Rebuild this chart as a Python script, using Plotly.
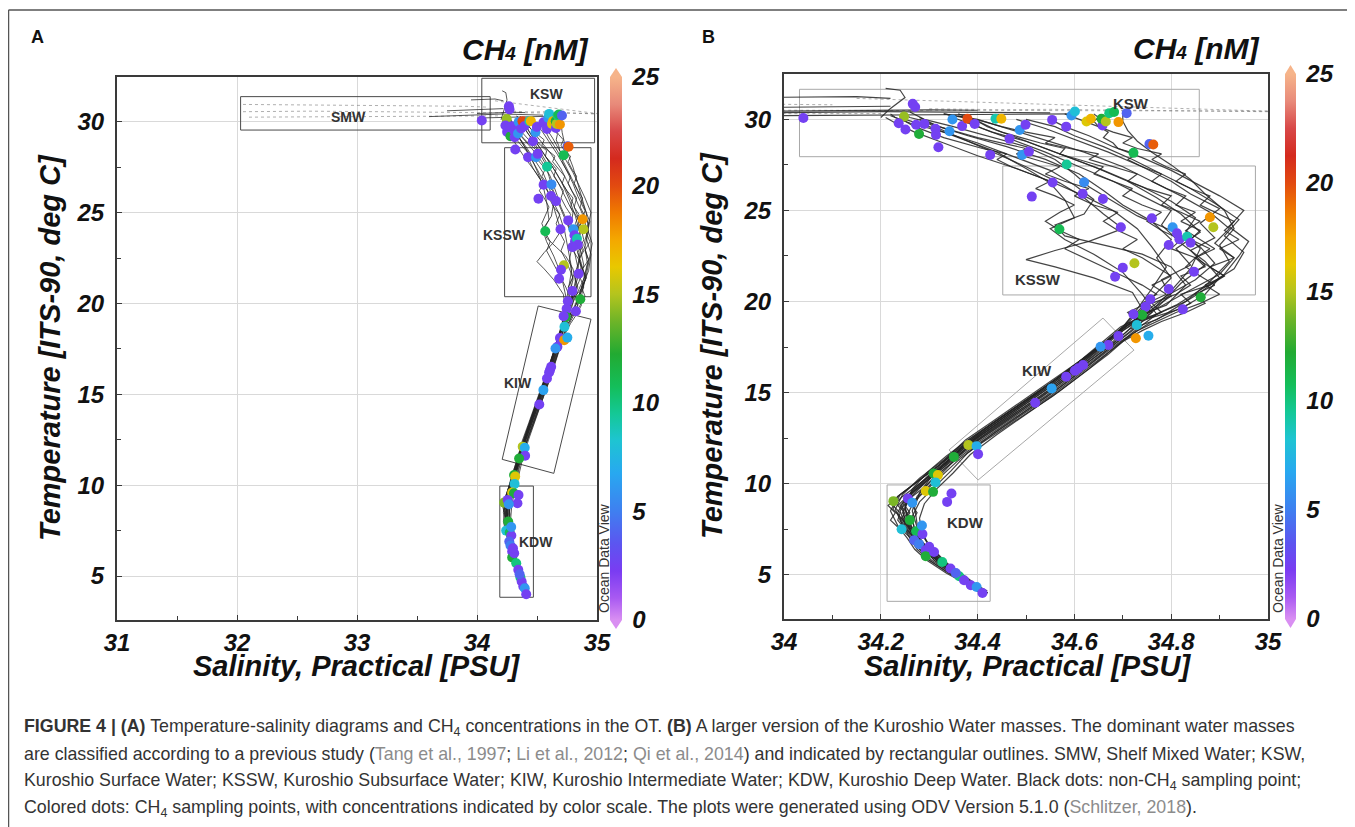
import plotly.graph_objects as go

# page body margin is 8px: reference pixel P maps to figure pixel P-8
OFF = 8
W, H = 1355 - OFF, 827 - OFF
def fx(px): return (px - OFF) / W
def fy(py): return 1 - (py - OFF) / H

FONT = "Liberation Sans, Arial, sans-serif"

# ---------------- CTD casts (salinity PSU, temperature deg C) ----------------
cast01_sal = [34.415, 34.37, 34.325, 34.29, 34.265, 34.255, 34.27, 34.30, 34.335, 34.37, 34.425, 34.49, 34.555, 34.615, 34.665, 34.705,
              34.76, 34.80, 34.84, 34.86, 34.83, 34.85, 34.80, 34.74, 34.66, 34.58, 34.50, 34.44, 34.40, 34.36]
cast01_temp = [4.0, 4.8, 5.7, 6.6, 7.5, 8.3, 9.1, 9.9, 10.8, 11.8, 12.9, 14.1, 15.3, 16.5, 17.6, 18.5,
               19.5, 20.6, 21.8, 22.9, 23.8, 24.6, 25.5, 26.3, 27.2, 28.0, 28.8, 29.4, 29.9, 30.2]

cast02_sal = [34.41, 34.36, 34.31, 34.27, 34.235, 34.22, 34.235, 34.275, 34.32, 34.36, 34.415, 34.48, 34.545, 34.605, 34.655, 34.695,
              34.77, 34.83, 34.90, 34.93, 34.89, 34.92, 34.88, 34.82, 34.76, 34.70, 34.62, 34.52, 34.45, 34.40, 34.33]
cast02_temp = [3.9, 4.9, 5.9, 6.8, 7.7, 8.5, 9.3, 10.1, 11.0, 11.9, 13.0, 14.2, 15.4, 16.6, 17.7, 18.6,
               19.6, 20.5, 21.5, 22.4, 23.2, 24.0, 24.9, 25.8, 26.6, 27.4, 28.2, 29.0, 29.6, 30.0, 30.3]

cast03_sal = [34.42, 34.38, 34.34, 34.305, 34.285, 34.28, 34.29, 34.315, 34.35, 34.385, 34.44, 34.505, 34.57, 34.63, 34.68, 34.72,
              34.77, 34.74, 34.70, 34.64, 34.58, 34.55, 34.60, 34.58, 34.55, 34.50, 34.44, 34.36, 34.30, 34.25]
cast03_temp = [4.1, 4.7, 5.5, 6.4, 7.3, 8.1, 8.9, 9.7, 10.6, 11.6, 12.7, 13.9, 15.1, 16.3, 17.4, 18.3,
               19.3, 20.4, 21.6, 22.6, 23.4, 24.0, 24.6, 25.6, 26.5, 27.3, 28.2, 29.0, 29.6, 30.0]

cast04_sal = [34.415, 34.365, 34.315, 34.275, 34.25, 34.245, 34.265, 34.295, 34.33, 34.37, 34.43, 34.495, 34.56, 34.62, 34.67, 34.71,
              34.76, 34.81, 34.87, 34.93, 34.95, 34.91, 34.94, 34.89, 34.84, 34.78, 34.72, 34.66, 34.60, 34.56, 34.50]
cast04_temp = [4.0, 5.0, 5.9, 6.9, 7.8, 8.7, 9.5, 10.3, 11.1, 12.0, 13.1, 14.3, 15.5, 16.7, 17.8, 18.7,
               19.2, 19.8, 20.8, 21.8, 22.7, 23.6, 24.5, 25.4, 26.2, 27.0, 27.8, 28.5, 29.1, 29.6, 30.0]

cast05_sal = [34.41, 34.36, 34.315, 34.28, 34.25, 34.235, 34.25, 34.28, 34.325, 34.365, 34.42, 34.485, 34.55, 34.61, 34.66, 34.70,
              34.73, 34.76, 34.79, 34.76, 34.73, 34.68, 34.62, 34.55, 34.48, 34.40, 34.33, 34.27, 34.23, 34.21]
cast05_temp = [4.0, 4.9, 5.8, 6.7, 7.6, 8.4, 9.2, 10.0, 10.9, 11.9, 13.0, 14.2, 15.4, 16.6, 17.7, 18.6,
               19.6, 20.7, 21.9, 23.0, 24.0, 25.0, 25.8, 26.6, 27.3, 28.0, 28.7, 29.3, 29.8, 30.1]

cast06_sal = [34.42, 34.38, 34.33, 34.295, 34.27, 34.265, 34.28, 34.31, 34.345, 34.38, 34.435, 34.50, 34.565, 34.625, 34.675, 34.715,
              34.74, 34.78, 34.82, 34.87, 34.84, 34.89, 34.86, 34.90, 34.84, 34.80, 34.74, 34.67, 34.60, 34.54, 34.48]
cast06_temp = [4.0, 4.6, 5.5, 6.5, 7.4, 8.2, 9.0, 9.8, 10.7, 11.7, 12.8, 14.0, 15.2, 16.4, 17.5, 18.4,
               18.9, 19.9, 21.0, 22.0, 22.8, 23.5, 24.3, 25.1, 25.9, 26.6, 27.4, 28.2, 28.9, 29.5, 30.0]

cast07_sal = [34.415, 34.37, 34.32, 34.28, 34.245, 34.23, 34.245, 34.28, 34.33, 34.37, 34.425, 34.49, 34.555, 34.615, 34.665, 34.705,
              34.74, 34.72, 34.64, 34.56, 34.50, 34.56, 34.63, 34.70, 34.66, 34.62, 34.57, 34.50, 34.43, 34.37, 34.32, 34.28]
cast07_temp = [4.0, 4.8, 5.7, 6.7, 7.7, 8.6, 9.4, 10.3, 11.3, 12.2, 13.2, 14.4, 15.6, 16.8, 17.8, 18.7,
               19.6, 20.5, 21.3, 21.9, 22.3, 22.8, 23.3, 24.0, 24.8, 25.7, 26.5, 27.4, 28.2, 28.9, 29.5, 30.0]

cast08_sal = [34.42, 34.375, 34.33, 34.295, 34.275, 34.27, 34.28, 34.305, 34.34, 34.375, 34.43, 34.495, 34.56, 34.62, 34.67, 34.715,
              34.77, 34.82, 34.87, 34.90, 34.87, 34.82, 34.78, 34.80, 34.74, 34.68, 34.61, 34.54, 34.47, 34.41, 34.37]
cast08_temp = [4.0, 4.8, 5.8, 6.8, 7.8, 8.7, 9.5, 10.4, 11.3, 12.2, 13.3, 14.5, 15.7, 16.9, 17.9, 18.8,
               19.2, 19.6, 20.4, 21.3, 22.2, 23.2, 24.2, 25.0, 25.8, 26.6, 27.4, 28.2, 28.9, 29.5, 30.0]

cast09_sal = [34.415, 34.37, 34.32, 34.28, 34.255, 34.25, 34.265, 34.295, 34.335, 34.375, 34.43, 34.495, 34.56, 34.62, 34.67, 34.71,
              34.77, 34.83, 34.88, 34.92, 34.90, 34.93, 34.91, 34.87, 34.84, 34.80, 34.76, 34.73, 34.71, 34.70, 34.70]
cast09_temp = [4.0, 4.9, 5.9, 6.9, 7.9, 8.8, 9.7, 10.6, 11.5, 12.3, 13.3, 14.5, 15.7, 16.8, 17.9, 18.8,
               19.3, 20.0, 21.1, 22.2, 23.1, 24.0, 25.0, 25.9, 26.7, 27.5, 28.2, 28.8, 29.4, 29.9, 30.3]

cast10_sal = [34.41, 34.365, 34.315, 34.275, 34.25, 34.24, 34.255, 34.29, 34.33, 34.37, 34.425, 34.49, 34.55, 34.61, 34.66, 34.70,
              34.72, 34.76, 34.80, 34.77, 34.80, 34.76, 34.70, 34.66, 34.61, 34.54, 34.46, 34.38, 34.32, 34.28]
cast10_temp = [3.9, 4.8, 5.8, 6.8, 7.7, 8.5, 9.3, 10.1, 11.0, 12.0, 13.1, 14.3, 15.5, 16.7, 17.7, 18.6,
               19.2, 20.2, 21.3, 22.4, 23.4, 24.4, 25.3, 26.1, 27.0, 27.8, 28.5, 29.1, 29.6, 30.1]

cast11_sal = [34.42, 34.375, 34.325, 34.285, 34.26, 34.25, 34.265, 34.30, 34.34, 34.375, 34.43, 34.495, 34.56, 34.62, 34.67, 34.71,
              34.75, 34.79, 34.83, 34.80, 34.74, 34.66, 34.58, 34.56, 34.62, 34.64, 34.60, 34.55, 34.47, 34.40, 34.33, 34.26, 34.22]
cast11_temp = [4.0, 4.9, 5.8, 6.8, 7.8, 8.7, 9.6, 10.5, 11.5, 12.4, 13.4, 14.6, 15.8, 16.9, 17.9, 18.7,
               19.4, 19.8, 20.9, 21.9, 22.6, 23.1, 23.6, 24.2, 24.8, 25.6, 26.4, 27.2, 28.0, 28.7, 29.3, 29.8, 30.2]

cast12_sal = [34.42, 34.38, 34.335, 34.30, 34.275, 34.265, 34.275, 34.305, 34.345, 34.38, 34.435, 34.50, 34.565, 34.625, 34.675, 34.715,
              34.77, 34.80, 34.86, 34.91, 34.94, 34.96, 34.92, 34.95, 34.90, 34.85, 34.80, 34.74, 34.68, 34.63, 34.58, 34.55]
cast12_temp = [4.0, 4.7, 5.6, 6.6, 7.6, 8.5, 9.3, 10.2, 11.1, 12.0, 13.0, 14.2, 15.4, 16.6, 17.6, 18.5,
               19.0, 19.5, 20.5, 21.5, 22.5, 23.3, 24.1, 25.0, 25.8, 26.5, 27.2, 27.9, 28.5, 29.1, 29.6, 30.0]

cast13_sal = [34.415, 34.37, 34.32, 34.285, 34.26, 34.245, 34.26, 34.29, 34.33, 34.37, 34.425, 34.49, 34.555, 34.615, 34.665, 34.705,
              34.75, 34.80, 34.78, 34.84, 34.81, 34.86, 34.82, 34.77, 34.71, 34.64, 34.57, 34.50, 34.43, 34.38, 34.34]
cast13_temp = [4.0, 4.8, 5.8, 6.7, 7.6, 8.4, 9.2, 10.0, 10.9, 11.9, 13.0, 14.2, 15.4, 16.6, 17.7, 18.6,
               19.4, 20.3, 21.2, 22.0, 22.9, 23.8, 24.8, 25.7, 26.6, 27.4, 28.1, 28.8, 29.3, 29.8, 30.2]

cast14_sal = [34.42, 34.375, 34.33, 34.29, 34.26, 34.225, 34.24, 34.28, 34.325, 34.365, 34.42, 34.485, 34.55, 34.61, 34.66, 34.70,
              34.74, 34.79, 34.85, 34.89, 34.86, 34.80, 34.73, 34.68, 34.63, 34.60, 34.56, 34.50, 34.42, 34.35, 34.29, 34.26]
cast14_temp = [4.0, 4.8, 5.7, 6.6, 7.6, 8.6, 9.4, 10.2, 11.1, 12.0, 13.0, 14.2, 15.4, 16.6, 17.6, 18.5,
               19.3, 20.3, 21.2, 22.1, 23.0, 23.9, 24.7, 25.5, 26.3, 27.0, 27.8, 28.5, 29.1, 29.6, 30.0, 30.4]

# finer-resolution casts sampled on a common temperature list
fine_temp = [4.0, 4.5, 5.1, 5.8, 6.4, 7.0, 7.5, 8.0, 8.4, 8.8, 9.3, 9.8, 10.3, 10.8, 11.4, 12.0, 12.7, 13.4, 14.1, 14.8,
             15.6, 16.4, 17.1, 17.8, 18.4, 18.9, 19.4, 19.9, 20.4, 20.9, 21.4, 21.9, 22.4, 22.9, 23.4, 23.9, 24.4, 24.9,
             25.3, 25.8, 26.2, 26.6, 27.0, 27.4, 27.8, 28.1, 28.4, 28.7, 29.0, 29.3, 29.6, 29.9, 30.1, 30.3]
cast15_sal = [34.42, 34.39, 34.35, 34.31, 34.29, 34.27, 34.26, 34.245, 34.255, 34.24, 34.26, 34.28, 34.30, 34.32, 34.35, 34.38, 34.42, 34.46, 34.50, 34.54,
              34.58, 34.62, 34.655, 34.69, 34.72, 34.74, 34.78, 34.76, 34.81, 34.84, 34.82, 34.87, 34.85, 34.89, 34.86, 34.83, 34.86, 34.82,
              34.78, 34.80, 34.75, 34.71, 34.73, 34.68, 34.63, 34.65, 34.59, 34.54, 34.56, 34.50, 34.45, 34.41, 34.37, 34.33]
cast16_sal = [34.415, 34.38, 34.34, 34.30, 34.28, 34.265, 34.25, 34.235, 34.24, 34.225, 34.245, 34.27, 34.295, 34.315, 34.345, 34.375, 34.415, 34.455, 34.495, 34.535,
              34.575, 34.615, 34.65, 34.685, 34.71, 34.73, 34.76, 34.74, 34.77, 34.74, 34.70, 34.66, 34.62, 34.58, 34.61, 34.57, 34.54, 34.57,
              34.60, 34.56, 34.52, 34.55, 34.51, 34.47, 34.44, 34.46, 34.41, 34.37, 34.33, 34.30, 34.27, 34.25, 34.23, 34.22]
cast17_sal = [34.42, 34.385, 34.345, 34.31, 34.29, 34.28, 34.27, 34.265, 34.275, 34.265, 34.28, 34.30, 34.32, 34.34, 34.365, 34.395, 34.435, 34.475, 34.515, 34.555,
              34.595, 34.635, 34.67, 34.70, 34.73, 34.76, 34.80, 34.84, 34.82, 34.88, 34.91, 34.88, 34.93, 34.90, 34.94, 34.91, 34.93, 34.89,
              34.86, 34.88, 34.84, 34.81, 34.83, 34.79, 34.76, 34.78, 34.73, 34.70, 34.72, 34.68, 34.65, 34.62, 34.60, 34.58]
cast18_sal = [34.41, 34.375, 34.335, 34.295, 34.27, 34.255, 34.24, 34.22, 34.23, 34.215, 34.235, 34.26, 34.285, 34.31, 34.34, 34.37, 34.41, 34.45, 34.49, 34.53,
              34.57, 34.61, 34.645, 34.68, 34.70, 34.73, 34.71, 34.75, 34.79, 34.76, 34.80, 34.77, 34.74, 34.70, 34.73, 34.69, 34.66, 34.69,
              34.64, 34.60, 34.63, 34.58, 34.54, 34.57, 34.52, 34.48, 34.50, 34.45, 34.40, 34.36, 34.32, 34.29, 34.26, 34.25]
cast19_sal = [34.42, 34.385, 34.345, 34.305, 34.28, 34.27, 34.26, 34.25, 34.26, 34.25, 34.265, 34.29, 34.31, 34.33, 34.36, 34.39, 34.43, 34.47, 34.51, 34.55,
              34.59, 34.63, 34.665, 34.70, 34.74, 34.78, 34.83, 34.87, 34.85, 34.89, 34.86, 34.83, 34.85, 34.80, 34.82, 34.78, 34.75, 34.78,
              34.74, 34.70, 34.72, 34.68, 34.64, 34.66, 34.61, 34.57, 34.58, 34.53, 34.49, 34.45, 34.42, 34.40, 34.38, 34.36]
cast20_sal = [34.415, 34.38, 34.34, 34.30, 34.275, 34.26, 34.25, 34.24, 34.25, 34.235, 34.255, 34.28, 34.30, 34.325, 34.355, 34.385, 34.425, 34.465, 34.505, 34.545,
              34.585, 34.625, 34.66, 34.695, 34.73, 34.77, 34.81, 34.86, 34.90, 34.87, 34.91, 34.88, 34.85, 34.88, 34.84, 34.86, 34.82, 34.85,
              34.81, 34.83, 34.79, 34.76, 34.78, 34.74, 34.71, 34.73, 34.69, 34.68, 34.66, 34.67, 34.65, 34.64, 34.65, 34.64]

# near-surface streaks (faint dotted)
streak01_sal = [32.05, 32.60, 33.20, 33.70, 34.00, 34.30]
streak01_temp = [30.55, 30.58, 30.55, 30.52, 30.50, 30.48]
streak02_sal = [32.05, 32.80, 33.40, 33.90, 34.10]
streak02_temp = [30.95, 30.92, 30.90, 30.85, 30.80]
streak03_sal = [32.10, 32.70, 33.30, 33.90, 34.20]
streak03_temp = [30.25, 30.28, 30.30, 30.30, 30.32]
streak04_sal = [34.15, 34.45, 34.75, 35.00]
streak04_temp = [31.15, 30.90, 30.62, 30.45]
streak05_sal = [34.30, 34.60, 34.85, 35.00]
streak05_temp = [30.50, 30.48, 30.45, 30.45]
streak12_sal = [34.30, 34.45, 34.55, 34.70, 34.85, 35.00]
streak12_temp = [30.58, 30.53, 30.55, 30.50, 30.47, 30.42]
# near-surface streaks (dark)
streak06_sal = [33.60, 33.85, 34.05, 34.20, 34.35, 34.50, 34.55]
streak06_temp = [30.28, 30.34, 30.40, 30.42, 30.40, 30.38, 30.36]
streak07_sal = [33.75, 33.95, 34.10, 34.22]
streak07_temp = [30.60, 30.64, 30.70, 30.72]
streak08_sal = [33.95, 34.05, 34.15, 34.22]
streak08_temp = [31.20, 31.22, 31.25, 31.15]
streak09_sal = [34.20, 34.22, 34.25, 34.24, 34.21]
streak09_temp = [30.10, 30.60, 31.20, 31.60, 31.70]
streak10_sal = [34.00, 34.10, 34.20, 34.30, 34.40]
streak10_temp = [30.45, 30.48, 30.50, 30.52, 30.50]
streak11_sal = [34.00, 34.12, 34.25, 34.38, 34.50, 34.60]
streak11_temp = [30.20, 30.22, 30.25, 30.28, 30.26, 30.30]

# ---------------- CH4 sampling points ----------------
dot_sal = [34.040, 34.266, 34.271, 34.248, 34.237, 34.251, 34.279, 34.273, 34.290, 34.313,
           34.314, 34.319, 34.342, 34.348, 34.368, 34.379, 34.394, 34.437, 34.449, 34.426,
           34.466, 34.487, 34.499, 34.492, 34.506, 34.512, 34.554, 34.583, 34.594, 34.601,
           34.625, 34.634, 34.658, 34.656, 34.665, 34.672, 34.682, 34.691, 34.708, 34.755,
           34.763, 34.722, 34.584, 34.555, 34.620, 34.617, 34.659, 34.760, 34.880, 34.887,
           34.696, 34.569, 34.803, 34.812, 34.817, 34.833, 34.840, 34.795, 34.724, 34.700,
           34.684, 34.847, 34.795, 34.861, 34.757, 34.747, 34.740, 34.722, 34.824, 34.729,
           34.691, 34.727, 34.753, 34.670, 34.654, 34.618, 34.608, 34.601, 34.583, 34.553,
           34.519, 34.381, 34.398, 34.401, 34.351, 34.309, 34.318, 34.313, 34.293, 34.308,
           34.346, 34.337, 34.226, 34.256, 34.265, 34.260, 34.243, 34.273, 34.286, 34.269,
           34.279, 34.293, 34.293, 34.310, 34.327, 34.344, 34.362, 34.372, 34.386, 34.398,
           34.410, 34.300, 34.355, 34.285]
dot_temp = [30.07, 30.85, 30.68, 30.15, 29.79, 29.44, 29.20, 29.70, 29.75, 29.48,
            29.15, 28.47, 29.35, 29.99, 29.63, 30.03, 29.75, 30.03, 30.03, 28.05,
            28.93, 29.42, 29.71, 28.05, 28.23, 25.76, 29.97, 29.60, 30.21, 30.43,
            29.88, 30.03, 29.66, 30.03, 29.88, 30.34, 30.40, 29.85, 30.34, 28.65,
            28.62, 28.16, 27.52, 26.53, 26.55, 25.91, 25.63, 24.57, 24.63, 24.08,
            24.08, 23.97, 24.08, 23.75, 23.42, 23.56, 23.23, 23.10, 22.10, 21.86,
            21.36, 21.64, 20.69, 20.23, 20.12, 19.71, 19.26, 19.30, 19.57, 18.71,
            18.10, 17.98, 18.12, 17.61, 17.52, 16.51, 16.33, 16.20, 15.87, 15.23,
            14.44, 12.12, 12.06, 11.62, 11.47, 10.56, 10.47, 10.07, 9.60, 9.55,
            9.46, 9.00, 9.04, 9.19, 8.95, 8.00, 7.50, 7.39, 7.23, 6.90,
            6.68, 6.35, 6.02, 6.25, 5.70, 5.34, 4.92, 4.70, 4.42, 4.33,
            4.00, 6.53, 5.10, 7.70]
dot_ch4 = [2.5, 2.5, 2.5, 14.5, 2.5, 2.5, 12, 2.5, 2.5, 2.5,
           2.5, 2.5, 6, 6, 2.5, 20, 2.5, 9, 17, 2.5,
           2.5, 6, 2.5, 6, 2.5, 2.5, 2.5, 2.5, 6, 8,
           16, 17, 2.5, 12, 15, 10, 11, 18, 4, 4,
           19.5, 11, 9.5, 2.5, 5.5, 2.5, 2.5, 2.5, 18, 15,
           2.5, 11, 6, 2.5, 2.5, 9, 2.5, 2.5, 15, 2.5,
           2.5, 2.5, 2.5, 12, 2.5, 2.5, 12, 2.5, 2.5, 8,
           2.5, 18, 7, 2.5, 6, 2.5, 2.5, 2.5, 2.5, 6.5,
           2.5, 15, 7, 2.5, 12, 12, 16, 8, 16, 12,
           2.5, 2.5, 14, 2.5, 6, 12, 8, 11, 2.5, 4,
           5, 2.5, 12, 2.5, 10, 2.5, 10, 2.5, 2.5, 6,
           2.5, 2.5, 4, 6]

# ---------------- water-mass outlines ----------------
# panel A: [S_min, S_max, T_min, T_max]
boxA_smw = [32.03, 34.11, 29.54, 31.38]
boxA_ksw = [34.04, 34.98, 28.84, 32.39]
boxA_kssw = [34.23, 34.95, 20.37, 28.57]
boxA_kdw = [34.19, 34.47, 3.83, 9.95]
boxA_kiw_sal = [34.51, 34.95, 34.64, 34.21]
boxA_kiw_temp = [19.86, 19.13, 10.65, 11.42]
# panel B
boxB_ksw = [34.032, 34.858, 27.95, 31.65]
boxB_kssw = [34.452, 34.974, 20.36, 27.44]
boxB_kdw = [34.213, 34.426, 3.54, 9.93]
boxB_kiw_sal = [34.341, 34.659, 34.723, 34.401]
boxB_kiw_temp = [11.85, 19.09, 17.33, 10.20]

labelA_text = ["SMW", "KSW", "KSSW", "KIW", "KDW"]
labelA_sal = [32.93, 34.58, 34.23, 34.34, 34.49]
labelA_temp = [30.24, 31.52, 23.77, 15.62, 6.87]
labelB_text = ["KSW", "KSSW", "KIW", "KDW"]
labelB_sal = [34.716, 34.525, 34.523, 34.375]
labelB_temp = [30.88, 21.22, 16.20, 7.86]

cb_ticks = [0, 5, 10, 15, 20, 25]

# ---------------- build ----------------
casts = [(cast01_sal, cast01_temp), (cast02_sal, cast02_temp), (cast03_sal, cast03_temp),
         (cast04_sal, cast04_temp), (cast05_sal, cast05_temp), (cast06_sal, cast06_temp),
         (cast07_sal, cast07_temp), (cast08_sal, cast08_temp), (cast09_sal, cast09_temp),
         (cast10_sal, cast10_temp), (cast11_sal, cast11_temp), (cast12_sal, cast12_temp),
         (cast13_sal, cast13_temp), (cast14_sal, cast14_temp),
         (cast15_sal, fine_temp), (cast16_sal, fine_temp), (cast17_sal, fine_temp),
         (cast18_sal, fine_temp), (cast19_sal, fine_temp), (cast20_sal, fine_temp)]
faint = [(streak01_sal, streak01_temp), (streak02_sal, streak02_temp), (streak03_sal, streak03_temp),
         (streak04_sal, streak04_temp), (streak05_sal, streak05_temp), (streak12_sal, streak12_temp)]
dark = [(streak06_sal, streak06_temp), (streak07_sal, streak07_temp), (streak08_sal, streak08_temp),
        (streak09_sal, streak09_temp), (streak10_sal, streak10_temp), (streak11_sal, streak11_temp)]

def join(pairs):
    xs, ys = [], []
    for s, t in pairs:
        xs += list(s) + [None]
        ys += list(t) + [None]
    return xs, ys

colorscale = [[0.0, "#d98ff2"], [0.04, "#a95af2"], [0.09, "#7a3cf2"], [0.14, "#5c55f0"],
              [0.2, "#3f7ff0"], [0.27, "#28a8f0"], [0.33, "#1ec4d2"], [0.38, "#14c896"],
              [0.43, "#14be5a"], [0.49, "#22aa32"], [0.55, "#6eb428"], [0.6, "#b4c41e"],
              [0.65, "#e8c800"], [0.7, "#f4a800"], [0.75, "#f07a00"], [0.8, "#e24a10"],
              [0.85, "#d42a1e"], [0.9, "#d84848"], [0.95, "#e88a7a"], [1.0, "#f6b48a"]]

tickfont = dict(family=FONT, size=24, color="#111", weight="bold", style="italic")

fig = go.Figure()
panels = [("x", "y", 610, 77, 543, 12, 0.9), ("x2", "y2", 1285, 74, 545, 11, 1.2)]
for ax, ay, cbx, cby, cblen, cbth, lw in panels:
    xs, ys = join(faint)
    fig.add_trace(go.Scatter(x=xs, y=ys, mode="lines", xaxis=ax, yaxis=ay,
                             line=dict(color="rgba(110,110,110,0.55)", width=1, dash="dot"),
                             hoverinfo="skip", showlegend=False))
    xs, ys = join(dark + casts)
    fig.add_trace(go.Scatter(x=xs, y=ys, mode="lines", xaxis=ax, yaxis=ay,
                             line=dict(color="rgba(35,35,35,0.85)", width=lw),
                             hoverinfo="skip", showlegend=False))
    fig.add_trace(go.Scatter(
        x=dot_sal, y=dot_temp, mode="markers", xaxis=ax, yaxis=ay, showlegend=False,
        marker=dict(size=10, color=dot_ch4, colorscale=colorscale, cmin=0, cmax=25,
                    line=dict(width=0), showscale=True,
                    colorbar=dict(x=fx(cbx), xanchor="left", xpad=0, thickness=cbth,
                                  lenmode="pixels", len=cblen, y=fy(cby), yanchor="top", ypad=0,
                                  tickvals=cb_ticks, ticks="outside", ticklen=6,
                                  tickcolor="rgba(0,0,0,0)", outlinewidth=0,
                                  tickfont=tickfont))))

axis_common = dict(showline=True, mirror=True, linecolor="#3a3a3a", linewidth=2,
                   showgrid=True, gridcolor="#d9d9d9", gridwidth=1, zeroline=False,
                   ticks="inside", ticklen=5, tickcolor="#3a3a3a", tickfont=tickfont,
                   automargin=False)

fig.update_layout(
    width=W, height=H, margin=dict(l=0, r=0, t=0, b=0, pad=0, autoexpand=False),
    paper_bgcolor="white", plot_bgcolor="white", showlegend=False,
    xaxis=dict(domain=[fx(117), fx(597)], range=[31, 35], tick0=31, dtick=1, anchor="y",
               ticklabelstandoff=0,
               minor=dict(dtick=0.5, ticks="inside", ticklen=4, tickcolor="#3a3a3a", showgrid=False),
               **axis_common),
    yaxis=dict(domain=[fy(620), fy(77)], range=[2.58, 32.46], tick0=0, dtick=5, anchor="x",
               ticklabelstandoff=6,
               minor=dict(dtick=2.5, ticks="inside", ticklen=4, tickcolor="#3a3a3a", showgrid=False),
               **axis_common),
    xaxis2=dict(domain=[fx(784), fx(1268)], range=[34, 35], tick0=34, dtick=0.2, anchor="y2",
                ticklabelstandoff=0,
                minor=dict(dtick=0.1, ticks="inside", ticklen=4, tickcolor="#3a3a3a", showgrid=False),
                **axis_common),
    yaxis2=dict(domain=[fy(619), fy(74)], range=[2.57, 32.49], tick0=0, dtick=5, anchor="x2",
                ticklabelstandoff=6,
                minor=dict(dtick=2.5, ticks="inside", ticklen=4, tickcolor="#3a3a3a", showgrid=False),
                **axis_common),
)

shapes = []
def rect(b, xref, yref, color):
    return dict(type="rect", xref=xref, yref=yref, x0=b[0], x1=b[1], y0=b[2], y1=b[3],
                line=dict(color=color, width=1), fillcolor="rgba(0,0,0,0)", layer="between")
def quad(ss, ts, xref, yref, color):
    p = "M " + " L ".join(f"{s},{t}" for s, t in zip(ss, ts)) + " Z"
    return dict(type="path", xref=xref, yref=yref, path=p,
                line=dict(color=color, width=1), layer="between")

for b in [boxA_smw, boxA_ksw, boxA_kssw, boxA_kdw]:
    shapes.append(rect(b, "x", "y", "#4a4a4a"))
shapes.append(quad(boxA_kiw_sal, boxA_kiw_temp, "x", "y", "#4a4a4a"))
for b in [boxB_ksw, boxB_kssw, boxB_kdw]:
    shapes.append(rect(b, "x2", "y2", "#a8a8a8"))
shapes.append(quad(boxB_kiw_sal, boxB_kiw_temp, "x2", "y2", "#a8a8a8"))

# outer frame of the figure
shapes.append(dict(type="line", xref="paper", yref="paper", x0=fx(8.5), x1=1, y0=fy(10), y1=fy(10),
                   line=dict(color="#555", width=1.5)))
shapes.append(dict(type="line", xref="paper", yref="paper", x0=fx(8.5), x1=fx(8.5), y0=fy(10), y1=0,
                   line=dict(color="#555", width=1.5)))

# colourbar end triangles
def tri(pts, color):
    p = "M " + " L ".join(f"{fx(a)},{fy(b)}" for a, b in pts) + " Z"
    return dict(type="path", xref="paper", yref="paper", path=p, fillcolor=color,
                line=dict(width=0))
shapes.append(tri([(610, 77), (622, 77), (616, 68)], "#f6b48a"))
shapes.append(tri([(610, 620), (622, 620), (616, 629)], "#d98ff2"))
shapes.append(tri([(1285, 74), (1296, 74), (1290.5, 65)], "#f6b48a"))
shapes.append(tri([(1285, 619), (1296, 619), (1290.5, 628)], "#d98ff2"))
fig.update_layout(shapes=shapes)

ann = []
def txt(x, y, text, size, bold=False, italic=False, angle=0, color="#111", xanchor="center", yanchor="middle"):
    font = dict(family=FONT, size=size, color=color)
    if bold:
        font["weight"] = "bold"
    if italic:
        font["style"] = "italic"
    ann.append(dict(x=fx(x), y=fy(y), xref="paper", yref="paper", text=text, showarrow=False,
                    textangle=angle, xanchor=xanchor, yanchor=yanchor, font=font))

txt(37, 37, "A", 18, bold=True)
txt(708, 37, "B", 18, bold=True)
ch4 = "CH<span style='font-size:19px'>4</span> [nM]"
txt(525, 49, ch4, 30, bold=True, italic=True)
txt(1196, 48, ch4, 30, bold=True, italic=True)
ytitle = "Temperature [ITS-90, deg C]"
xtitle = "Salinity, Practical [PSU]"
txt(50, 348, ytitle, 29, bold=True, italic=True, angle=-90)
txt(712, 346, ytitle, 29, bold=True, italic=True, angle=-90)
txt(356, 666, xtitle, 29, bold=True, italic=True)
txt(1027, 666, xtitle, 29, bold=True, italic=True)
txt(604, 558, "Ocean Data View", 14, angle=-90, color="#333")
txt(1278, 558, "Ocean Data View", 14, angle=-90, color="#333")

for t, s, tt in zip(labelA_text, labelA_sal, labelA_temp):
    ann.append(dict(x=s, y=tt, xref="x", yref="y", text=t, showarrow=False,
                    font=dict(family=FONT, size=14, color="#333", weight="bold")))
for t, s, tt in zip(labelB_text, labelB_sal, labelB_temp):
    ann.append(dict(x=s, y=tt, xref="x2", yref="y2", text=t, showarrow=False,
                    font=dict(family=FONT, size=15, color="#333", weight="bold")))

g = "<span style='color:#8c8c8c'>"
caption = [
    "<b>FIGURE 4 | (A)</b> Temperature-salinity diagrams and CH<sub>4</sub> concentrations in the OT. <b>(B)</b> A larger version of the Kuroshio Water masses. The dominant water masses",
    "are classified according to a previous study (" + g + "Tang et al., 1997</span>; " + g + "Li et al., 2012</span>; " + g + "Qi et al., 2014</span>) and indicated by rectangular outlines. SMW, Shelf Mixed Water; KSW,",
    "Kuroshio Surface Water; KSSW, Kuroshio Subsurface Water; KIW, Kuroshio Intermediate Water; KDW, Kuroshio Deep Water. Black dots: non-CH<sub>4</sub> sampling point;",
    "Colored dots: CH<sub>4</sub> sampling points, with concentrations indicated by color scale. The plots were generated using ODV Version 5.1.0 (" + g + "Schlitzer, 2018</span>).",
]
for i, line in enumerate(caption):
    txt(22, 727 + 27 * i, line, 17.8, color="#333", xanchor="left")

fig.update_layout(annotations=ann)
fig.write_html("out.html")
